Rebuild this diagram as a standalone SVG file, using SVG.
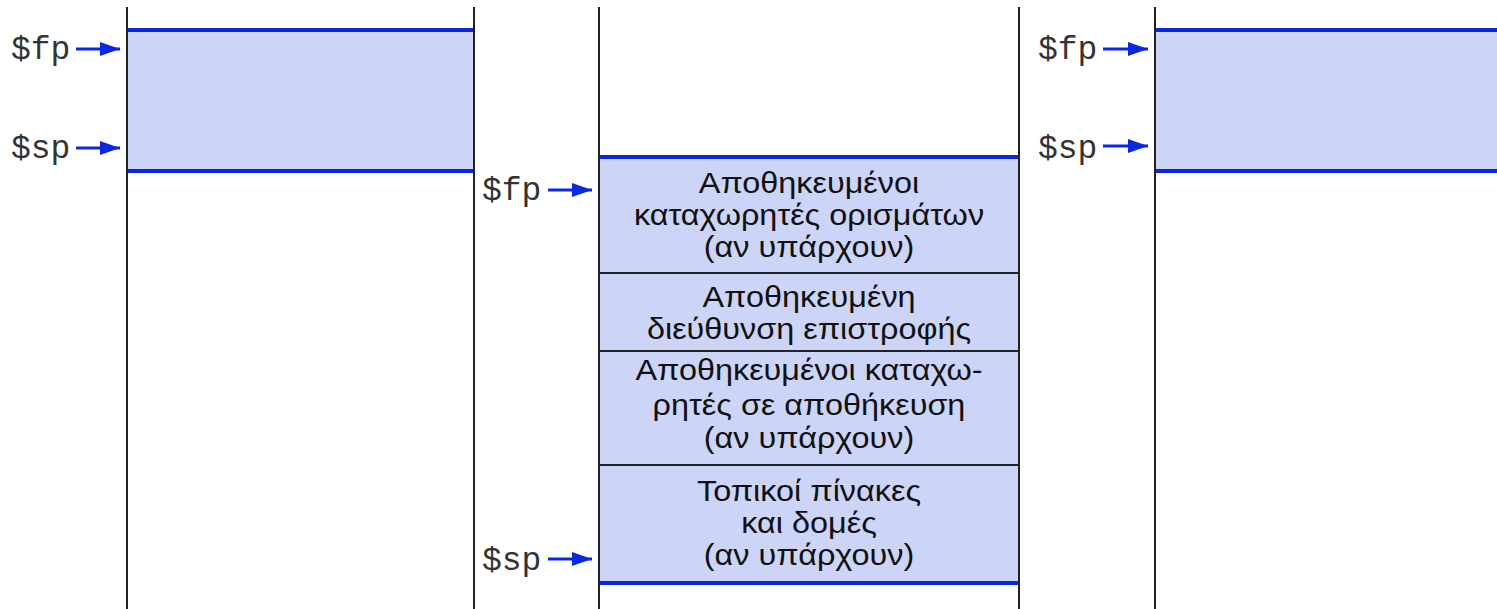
<svg xmlns="http://www.w3.org/2000/svg" width="1497" height="609" viewBox="0 0 1497 609">
<style>
.frame{fill:#ccd4f8;stroke:none}
.blue{stroke:#0a28e0;stroke-width:4}
.vl{stroke:#222;stroke-width:2}
.div{stroke:#222;stroke-width:2}
.reg{font-family:"Liberation Mono","Courier New",monospace;font-size:33px;fill:#333}
.lbl{font-family:"Liberation Sans",Arial,sans-serif;font-size:30px;fill:#111;text-anchor:middle}
.arr{stroke:#0a28e0;stroke-width:3;fill:none;marker-end:url(#ah)}
</style>
<defs>
<marker id="ah" viewBox="0 0 20 14" refX="20" refY="7" markerWidth="20" markerHeight="14" markerUnits="userSpaceOnUse" orient="auto">
<path d="M0,0 L20,7 L0,14 z" fill="#0a28e0"/>
</marker>
</defs>
<rect width="1497" height="609" fill="#fff"/>
<g id="left-frame">
<rect class="frame" x="127" y="30" width="347" height="141"/>
<line class="blue" x1="127" y1="30" x2="474" y2="30"/>
<line class="blue" x1="127" y1="171" x2="474" y2="171"/>
</g>
<g id="middle-frame">
<rect class="frame" x="599" y="157" width="420" height="426"/>
<line class="div" x1="599" y1="273" x2="1019" y2="273"/>
<line class="div" x1="599" y1="351" x2="1019" y2="351"/>
<line class="div" x1="599" y1="465" x2="1019" y2="465"/>
<line class="blue" x1="599" y1="157" x2="1019" y2="157"/>
<line class="blue" x1="599" y1="583" x2="1019" y2="583"/>
<g transform="translate(809,0) scale(1.08,1)">
<text class="lbl"><tspan x="0" y="193">Αποθηκευμένοι</tspan><tspan x="0" y="225">καταχωρητές ορισμάτων</tspan><tspan x="0" y="257">(αν υπάρχουν)</tspan></text>
<text class="lbl"><tspan x="0" y="307">Αποθηκευμένη</tspan><tspan x="0" y="339">διεύθυνση επιστροφής</tspan></text>
<text class="lbl"><tspan x="0" y="380">Αποθηκευμένοι καταχω-</tspan><tspan x="0" y="415">ρητές σε αποθήκευση</tspan><tspan x="0" y="448">(αν υπάρχουν)</tspan></text>
<text class="lbl"><tspan x="0" y="501">Τοπικοί πίνακες</tspan><tspan x="0" y="533">και δομές</tspan><tspan x="0" y="565">(αν υπάρχουν)</tspan></text>
</g>
</g>
<g id="right-frame">
<rect class="frame" x="1155" y="30" width="342" height="141"/>
<line class="blue" x1="1155" y1="30" x2="1497" y2="30"/>
<line class="blue" x1="1155" y1="171" x2="1497" y2="171"/>
</g>
<g id="stack-lines">
<line class="vl" x1="127" y1="7" x2="127" y2="609"/>
<line class="vl" x1="474" y1="7" x2="474" y2="609"/>
<line class="vl" x1="599" y1="7" x2="599" y2="609"/>
<line class="vl" x1="1019" y1="7" x2="1019" y2="609"/>
<line class="vl" x1="1155" y1="7" x2="1155" y2="609"/>
</g>
<g id="labels">
<text class="reg" x="11" y="59">$fp</text>
<text class="reg" x="11" y="158">$sp</text>
<text class="reg" x="482" y="200">$fp</text>
<text class="reg" x="482" y="570">$sp</text>
<text class="reg" x="1038" y="59">$fp</text>
<text class="reg" x="1038" y="158">$sp</text>
</g>
<g id="connectors">
<line class="arr" x1="76" y1="49" x2="120" y2="49"/>
<line class="arr" x1="76" y1="148" x2="120" y2="148"/>
<line class="arr" x1="548" y1="190" x2="592" y2="190"/>
<line class="arr" x1="548" y1="559" x2="592" y2="559"/>
<line class="arr" x1="1103" y1="49" x2="1148" y2="49"/>
<line class="arr" x1="1103" y1="146" x2="1148" y2="146"/>
</g>
</svg>
